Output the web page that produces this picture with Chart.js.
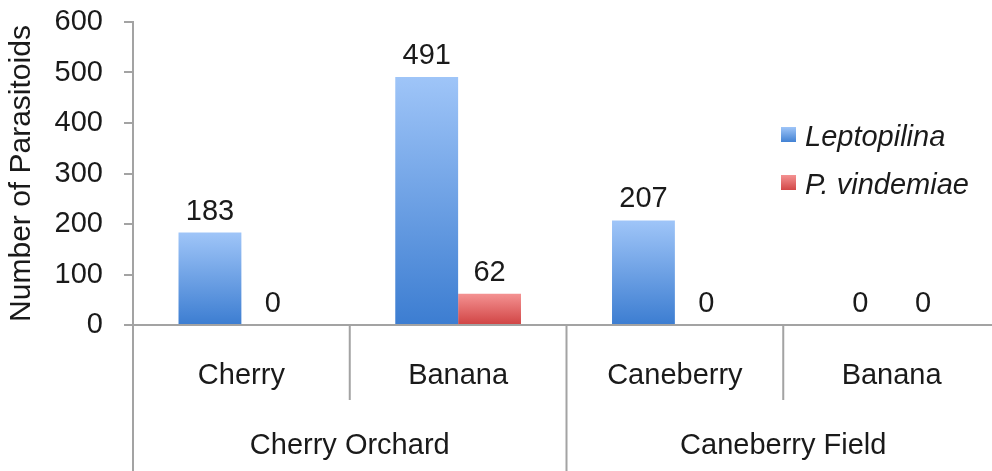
<!DOCTYPE html>
<html>
<head>
<meta charset="utf-8">
<script src="https://cdn.jsdelivr.net/npm/chart.js@4.4.1/dist/chart.umd.min.js"></script>
<style>
  html, body { margin: 0; padding: 0; background: #fff; overflow: hidden; }
  #wrap { position: absolute; left: 0; top: 0; width: 1000px; height: 471px; }
</style>
</head>
<body>
<div id="wrap"><canvas id="canvas"></canvas></div>
<script>
// hosts and sites
var categories = ['Cherry', 'Banana', 'Caneberry', 'Banana'];
var groups = ['Cherry Orchard', 'Caneberry Field'];
var groupSizes = [2, 2];

// parasitoid counts per host
var leptopilina = [183, 491, 207, 0];
var vindemiae = [0, 62, 0, 0];

var yTicks = [0, 100, 200, 300, 400, 500, 600];

var FONT = "'Liberation Sans', Arial, Helvetica, sans-serif";
var TEXT = '#1a1a1a';
var LINE = '#a3a3a3';

var blueStops = ['#9fc5f8', '#3c7dd1'];
var redStops = ['#f49292', '#d04343'];

function barFill(stops) {
	return function(ctx) {
		var chart = ctx.chart;
		if (ctx.type !== 'data' || !chart.chartArea) return stops[1];
		var y = chart.scales.y;
		var top = y.getPixelForValue(ctx.raw);
		var base = y.getPixelForValue(0);
		if (base - top < 1) return stops[1];
		var g = chart.ctx.createLinearGradient(0, top, 0, base);
		g.addColorStop(0, stops[0]);
		g.addColorStop(1, stops[1]);
		return g;
	};
}

var extras = {
	id: 'extras',
	afterDraw: function(chart) {
		var c = chart.ctx;
		var x = chart.scales.x;
		var area = chart.chartArea;
		var H = chart.height;

		c.save();
		// axis extension and category dividers
		c.strokeStyle = LINE;
		c.lineWidth = 2;
		c.beginPath();
		c.moveTo(area.left, area.bottom);
		c.lineTo(area.left, H);
		var idx = 0;
		var groupEnds = [];
		for (var g = 0; g < groupSizes.length; g++) { idx += groupSizes[g]; groupEnds.push(idx); }
		for (var i = 1; i < categories.length; i++) {
			var bx = (x.getPixelForValue(i - 1) + x.getPixelForValue(i)) / 2;
			var isGroup = groupEnds.indexOf(i) >= 0;
			c.moveTo(bx, area.bottom);
			c.lineTo(bx, isGroup ? H : 400);
		}
		c.stroke();

		// group labels
		c.fillStyle = TEXT;
		c.font = '29px ' + FONT;
		c.textAlign = 'center';
		c.textBaseline = 'middle';
		var start = 0;
		var half = (x.getPixelForValue(1) - x.getPixelForValue(0)) / 2;
		for (var g = 0; g < groups.length; g++) {
			var end = start + groupSizes[g] - 1;
			var left = x.getPixelForValue(start) - half;
			var right = x.getPixelForValue(end) + half;
			c.fillText(groups[g], (left + right) / 2, 446);
			start = end + 1;
		}

		// value labels above bars
		c.textBaseline = 'alphabetic';
		chart.data.datasets.forEach(function(ds, di) {
			var meta = chart.getDatasetMeta(di);
			meta.data.forEach(function(el, j) {
				c.fillText(String(ds.data[j]), el.x, el.y - 13);
			});
		});

		// legend
		var lx = 781, ly = [135, 183];
		c.textAlign = 'left';
		c.font = 'italic 29px ' + FONT;
		chart.data.datasets.forEach(function(ds, di) {
			var stops = di === 0 ? blueStops : redStops;
			var cy = ly[di];
			var gr = c.createLinearGradient(0, cy - 8, 0, cy + 8);
			gr.addColorStop(0, stops[0]);
			gr.addColorStop(1, stops[1]);
			c.fillStyle = gr;
			c.fillRect(lx, cy - 8, 15, 15);
			c.fillStyle = TEXT;
			c.textBaseline = 'alphabetic';
			c.fillText(ds.label, lx + 24, cy + 11);
		});
		c.restore();
	}
};

var graph = {
	labels: categories,
	datasets: [
		{
			label: 'Leptopilina',
			data: leptopilina,
			backgroundColor: barFill(blueStops),
			borderWidth: 0,
			categoryPercentage: 0.58,
			barPercentage: 1.0
		},
		{
			label: 'P. vindemiae',
			data: vindemiae,
			backgroundColor: barFill(redStops),
			borderWidth: 0,
			categoryPercentage: 0.58,
			barPercentage: 1.0
		}
	]
};

var bar = new Chart(document.getElementById('canvas'), {
	type: 'bar',
	data: graph,
	plugins: [extras],
	options: {
		responsive: true,
		maintainAspectRatio: false,
		animation: false,
		layout: { padding: { top: 22, left: 0, right: 0, bottom: 0 } },
		plugins: {
			legend: { display: false },
			tooltip: { enabled: false }
		},
		scales: {
			x: {
				grid: { display: false, drawTicks: false },
				border: { display: true, color: LINE, width: 2 },
				ticks: {
					color: TEXT,
					font: { family: FONT, size: 29 },
					padding: 34,
					maxRotation: 0,
					autoSkip: false
				},
				afterFit: function(scale) {
					scale.height = 146;
					scale.paddingLeft = 0;
					scale.paddingRight = 0;
				}
			},
			y: {
				min: 0,
				max: 600,
				grid: { drawOnChartArea: false, color: LINE, lineWidth: 2, tickLength: 9 },
				border: { display: true, color: LINE, width: 2 },
				ticks: {
					color: TEXT,
					font: { family: FONT, size: 29 },
					padding: 21,
					stepSize: 100,
					callback: function(v) { return yTicks.indexOf(v) >= 0 ? String(v) : ''; }
				},
				title: {
					display: true,
					text: 'Number of Parasitoids',
					color: TEXT,
					font: { family: FONT, size: 30 },
					padding: { top: 4, bottom: 0 }
				},
				afterFit: function(scale) {
					scale.width = 133;
					scale.paddingTop = 0;
					scale.paddingBottom = 0;
				}
			}
		}
	}
});
</script>
</body>
</html>
